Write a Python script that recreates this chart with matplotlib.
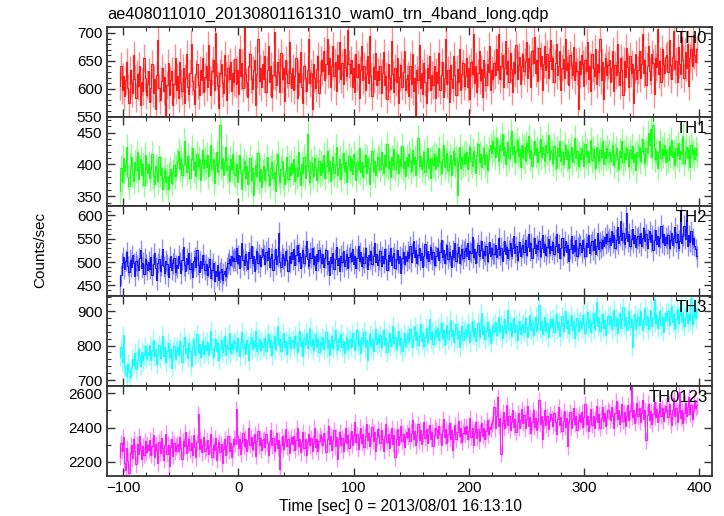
import matplotlib
matplotlib.use("Agg")
import matplotlib.pyplot as plt
import numpy as np
from matplotlib.ticker import MultipleLocator

plt.rcParams['font.family'] = ['Liberation Sans', 'DejaVu Sans']

title = "ae408011010_20130801161310_wam0_trn_4band_long.qdp"
xlabel = "Time [sec] 0 = 2013/08/01 16:13:10"
ylabel = "Counts/sec"

# 1 s bins, first bin at t = -103 s
t_start = -103
t_bin = 1.0

band_names = ["TH0", "TH1", "TH2", "TH3", "TH0123"]

th0 = [
    605, 640, 598, 622, 587, 615, 648, 601, 574, 633, 610, 592, 660, 618, 583, 627, 605, 641, 570, 612, 596, 655, 620, 589, 608,
    631, 577, 602, 644, 593, 618, 563, 625, 688, 601, 579, 614, 638, 596, 621, 553, 607, 646, 588, 615, 632, 570, 609, 655, 597,
    622, 584, 648, 611, 596, 637, 575, 620, 663, 603, 590, 629, 681, 614, 598, 572, 626, 645, 607, 589, 633, 616, 656, 594, 621,
    640, 603, 679, 615, 588, 631, 652, 598, 700, 622, 606, 566, 628, 645, 611, 593, 661, 624, 580, 637, 617, 648, 596, 629, 612,
    654, 608, 633, 590, 671, 622, 646, 601, 710, 627, 612, 585, 640, 663, 618, 599, 634, 652, 571, 626, 689, 614, 637, 603, 645,
    618, 659, 594, 633, 676, 612, 640, 585, 625, 701, 622, 607, 648, 630, 595, 664, 617, 638, 578, 651, 626, 610, 683, 628, 601,
    637, 598, 622, 655, 584, 629, 612, 666, 603, 575, 641, 620, 596, 634, 689, 611, 628, 563, 645, 619, 602, 636, 658, 593, 624,
    652, 631, 668, 615, 644, 690, 627, 655, 603, 641, 676, 622, 648, 596, 661, 635, 683, 618, 647, 609, 672, 638, 623, 705, 644,
    628, 651, 604, 637, 595, 662, 621, 645, 583, 633, 676, 615, 641, 598, 626, 658, 610, 694, 622, 587, 639, 617, 664, 606, 631,
    615, 641, 592, 628, 665, 606, 623, 581, 644, 619, 600, 686, 627, 594, 638, 612, 655, 575, 621, 643, 604, 630, 667, 597, 618,
    624, 587, 640, 609, 662, 596, 619, 553, 633, 615, 678, 601, 628, 590, 646, 612, 574, 637, 620, 658, 598, 625, 606, 641, 583,
    630, 611, 664, 597, 625, 648, 586, 619, 690, 608, 633, 576, 642, 617, 601, 659, 624, 589, 636, 612, 671, 598, 627, 646, 605,
    622, 655, 603, 637, 581, 648, 626, 699, 611, 640, 594, 628, 667, 615, 636, 585, 652, 621, 607, 644, 630, 676, 598, 633, 618,
    646, 625, 672, 633, 698, 617, 641, 660, 604, 638, 685, 627, 650, 612, 664, 636, 595, 648, 629, 679, 618, 643, 657, 608, 640,
    662, 631, 648, 684, 620, 655, 639, 603, 667, 646, 692, 628, 651, 614, 673, 640, 658, 597, 645, 676, 633, 662, 619, 649, 687,
    636, 655, 612, 647, 680, 625, 641, 667, 598, 638, 654, 620, 689, 633, 646, 607, 661, 642, 624, 675, 615, 648, 632, 563, 650,
    627, 660, 644, 605, 652, 631, 684, 618, 641, 596, 663, 637, 622, 671, 609, 645, 630, 690, 616, 648, 582, 639, 656, 625, 643,
    651, 612, 638, 667, 596, 642, 625, 681, 630, 607, 655, 634, 588, 649, 621, 673, 639, 603, 658, 628, 645, 574, 636, 662, 617,
    634, 668, 620, 645, 699, 628, 652, 606, 641, 676, 632, 615, 663, 647, 590, 655, 639, 708, 626, 650, 612, 672, 643, 629, 657,
    661, 630, 688, 642, 618, 657, 703, 636, 649, 612, 674, 645, 627, 692, 651, 620, 666, 638, 681, 605, 655, 672, 641, 696, 660,
    648, 672,
]

th1 = [
    358, 395, 372, 410, 389, 401, 427, 380, 366, 398, 412, 385, 374, 403, 391, 419, 377, 396, 408, 383, 400, 368, 415, 392, 386,
    401, 378, 393, 417, 381, 369, 398, 388, 374, 411, 384, 395, 362, 379, 391, 372, 380, 361, 384, 392, 371, 388, 399, 382, 395,
    405, 421, 392, 410, 384, 399, 437, 402, 388, 413, 395, 379, 408, 426, 391, 403, 382, 416, 397, 409, 376, 401, 422, 394, 407,
    396, 415, 381, 404, 430, 392, 408, 371, 399, 419, 388, 402, 462, 395, 410, 383, 405, 427, 391, 398, 374, 409, 393, 416, 386,
    383, 401, 372, 395, 414, 386, 362, 391, 405, 378, 397, 369, 388, 410, 375, 394, 352, 387, 399, 381, 418, 374, 392, 365, 389,
    398, 376, 391, 412, 383, 367, 395, 404, 379, 388, 358, 399, 416, 385, 372, 393, 405, 381, 369, 390, 411, 377, 396, 384, 402,
    387, 409, 374, 395, 382, 420, 391, 367, 401, 386, 412, 379, 398, 448, 388, 372, 404, 393, 381, 410, 396, 376, 391, 405, 384,
    402, 388, 415, 379, 397, 421, 390, 405, 374, 396, 411, 386, 399, 428, 383, 394, 409, 377, 400, 418, 389, 404, 372, 397, 413,
    391, 408, 385, 417, 399, 376, 403, 392, 426, 388, 404, 380, 398, 414, 387, 410, 394, 369, 402, 421, 390, 406, 383, 399, 411,
    408, 393, 420, 401, 387, 414, 398, 432, 395, 406, 380, 411, 399, 424, 392, 403, 417, 386, 409, 398, 429, 394, 405, 381, 412,
    397, 416, 405, 389, 423, 400, 411, 384, 407, 442, 398, 413, 392, 404, 419, 388, 402, 426, 395, 408, 378, 410, 399, 417, 393,
    412, 398, 425, 403, 387, 409, 430, 396, 405, 418, 391, 402, 414, 383, 407, 421, 399, 410, 352, 404, 427, 395, 411, 400, 416,
    402, 419, 393, 412, 428, 405, 398, 421, 409, 386, 415, 432, 403, 417, 396, 411, 426, 400, 414, 391, 408, 423, 430, 418, 436,
    426, 411, 441, 418, 405, 430, 422, 447, 414, 428, 401, 419, 435, 410, 425, 452, 416, 429, 404, 421, 438, 413, 424, 396, 430,
    412, 427, 405, 433, 419, 444, 410, 422, 398, 417, 436, 414, 425, 403, 420, 440, 411, 428, 416, 405, 431, 419, 446, 408, 423,
    418, 402, 429, 411, 394, 425, 413, 437, 406, 419, 400, 415, 431, 409, 422, 395, 414, 427, 404, 418, 442, 410, 421, 398, 416,
    409, 426, 416, 398, 432, 413, 421, 403, 418, 439, 407, 424, 411, 395, 428, 415, 406, 423, 412, 437, 401, 419, 410, 426, 414,
    420, 405, 417, 431, 399, 414, 425, 408, 393, 421, 411, 436, 403, 418, 409, 426, 414, 397, 422, 410, 429, 404, 416, 391, 419,
    413, 428, 405, 421, 440, 416, 402, 425, 418, 449, 430, 456, 412, 462, 426, 408, 421, 395, 419, 436, 410, 424, 414, 431, 403,
    422, 407, 429, 415, 438, 411, 420, 399, 426, 414, 433, 408, 421, 417, 445, 402, 419, 428, 410, 424, 396, 431, 416, 422, 409,
    425, 414,
]

th2 = [
    448, 472, 497, 510, 486, 503, 521, 492, 478, 505, 489, 515, 497, 470, 502, 493, 484, 509, 526, 488, 499, 474, 507, 495, 483,
    501, 486, 511, 473, 496, 519, 488, 462, 498, 507, 480, 493, 528, 491, 476, 503, 495, 468, 489, 512, 484, 497, 509, 479, 494,
    488, 514, 499, 476, 505, 532, 493, 481, 508, 496, 520, 485, 499, 467, 503, 511, 490, 526, 494, 478, 502, 487, 516, 496, 483,
    495, 472, 489, 506, 466, 484, 498, 459, 480, 470, 493, 462, 478, 486, 461, 475, 481, 470, 488, 497, 506, 494, 512, 503, 509,
    503, 529, 497, 515, 488, 512, 541, 505, 494, 518, 502, 486, 521, 509, 535, 497, 513, 480, 507, 524, 499, 516, 491, 511, 528,
    515, 496, 522, 504, 531, 490, 509, 518, 482, 506, 527, 495, 512, 563, 501, 489, 517, 508, 493, 524, 505, 480, 514, 499, 521,
    506, 528, 494, 515, 537, 503, 519, 488, 511, 526, 498, 514, 545, 507, 492, 520, 509, 531, 496, 513, 484, 518, 502, 525, 510,
    498, 517, 489, 509, 526, 495, 503, 472, 511, 497, 520, 486, 506, 532, 494, 508, 481, 514, 500, 523, 491, 505, 517, 488, 510,
    519, 502, 527, 496, 514, 488, 508, 535, 503, 521, 492, 510, 498, 529, 511, 485, 516, 504, 524, 495, 513, 540, 501, 518, 493,
    505, 523, 491, 512, 499, 528, 507, 483, 516, 502, 531, 494, 510, 519, 487, 506, 525, 498, 513, 476, 508, 521, 496, 514, 503,
    522, 508, 534, 501, 519, 545, 511, 526, 497, 516, 531, 505, 520, 489, 514, 538, 509, 523, 502, 517, 533, 506, 521, 494, 512,
    513, 529, 504, 521, 548, 510, 525, 497, 518, 536, 507, 522, 514, 490, 526, 511, 540, 503, 519, 532, 498, 516, 527, 508, 523,
    530, 514, 541, 506, 524, 519, 553, 510, 528, 499, 521, 537, 512, 526, 545, 508, 523, 516, 534, 503, 520, 542, 513, 529, 518,
    518, 537, 510, 528, 551, 515, 531, 502, 524, 546, 517, 533, 508, 526, 540, 512, 529, 556, 519, 534, 505, 522, 543, 514, 530,
    537, 521, 548, 516, 533, 559, 524, 540, 509, 531, 552, 519, 536, 527, 544, 512, 530, 557, 522, 538, 515, 533, 549, 520, 535,
    526, 543, 517, 534, 560, 522, 538, 508, 529, 551, 516, 532, 545, 521, 537, 503, 528, 555, 519, 536, 524, 547, 513, 531, 540,
    536, 521, 548, 529, 514, 541, 533, 558, 520, 537, 545, 526, 550, 518, 534, 562, 527, 543, 530, 547, 535, 553, 540, 559, 544,
    551, 536, 566, 542, 557, 531, 548, 575, 540, 556, 588, 547, 563, 538, 552, 604, 544, 561, 535, 549, 570, 541, 558, 533, 550,
    556, 541, 563, 535, 552, 572, 546, 559, 530, 549, 566, 543, 557, 525, 548, 569, 539, 555, 534, 551, 578, 542, 560, 537, 553,
    540, 558, 531, 547, 563, 536, 552, 574, 543, 560, 529, 546, 612, 541, 556, 578, 549, 590, 535, 557, 543, 566, 538, 551, 534,
    528, 512,
]

th3 = [
    768, 795, 752, 830, 741, 722, 712, 748, 725, 708, 734, 762, 745, 778, 731, 756, 790, 769, 742, 781, 757, 773, 798, 764, 780,
    772, 801, 758, 785, 816, 769, 790, 747, 776, 803, 764, 788, 829, 771, 795, 752, 783, 808, 766, 791, 736, 779, 798, 761, 785,
    797, 773, 812, 786, 752, 801, 826, 779, 793, 763, 808, 785, 741, 796, 818, 772, 789, 834, 781, 805, 767, 792, 814, 776, 799,
    788, 811, 774, 803, 842, 790, 768, 797, 820, 783, 806, 759, 794, 816, 781, 799, 827, 772, 802, 789, 835, 778, 804, 791, 812,
    806, 783, 821, 797, 770, 810, 839, 792, 805, 776, 817, 801, 758, 808, 826, 789, 814, 795, 843, 783, 802, 819, 787, 811, 796,
    798, 821, 785, 809, 834, 796, 815, 772, 806, 828, 790, 812, 857, 801, 818, 783, 809, 836, 795, 814, 777, 806, 825, 793, 811,
    817, 794, 829, 806, 781, 814, 842, 799, 811, 770, 822, 805, 836, 792, 815, 851, 803, 819, 787, 810, 833, 797, 818, 780, 809,
    801, 824, 789, 812, 838, 796, 815, 773, 806, 829, 792, 817, 845, 803, 788, 821, 809, 834, 795, 813, 778, 807, 826, 790, 814,
    820, 797, 835, 811, 786, 818, 844, 802, 815, 779, 826, 808, 839, 796, 817, 758, 810, 833, 799, 819, 785, 812, 847, 804, 821,
    809, 832, 796, 818, 845, 803, 822, 781, 814, 837, 799, 821, 858, 808, 826, 790, 815, 841, 802, 823, 784, 811, 836, 798, 819,
    833, 812, 848, 821, 795, 829, 856, 816, 838, 802, 827, 863, 814, 835, 798, 824, 851, 810, 832, 877, 819, 840, 805, 826, 846,
    828, 851, 815, 839, 866, 822, 844, 803, 833, 859, 818, 841, 874, 827, 846, 809, 836, 862, 821, 843, 796, 832, 857, 817, 840,
    846, 825, 862, 836, 810, 843, 871, 829, 850, 813, 838, 866, 824, 847, 895, 833, 855, 818, 841, 869, 827, 849, 808, 836, 858,
    843, 867, 831, 854, 882, 840, 861, 822, 849, 876, 835, 858, 903, 844, 866, 828, 852, 879, 838, 860, 817, 847, 872, 833, 855,
    862, 840, 879, 853, 826, 859, 888, 845, 867, 830, 856, 884, 841, 864, 918, 849, 871, 834, 857, 882, 843, 866, 825, 852, 876,
    854, 877, 839, 863, 892, 848, 869, 828, 857, 885, 843, 866, 899, 851, 873, 836, 860, 889, 846, 870, 823, 856, 881, 841, 865,
    872, 850, 889, 862, 835, 868, 898, 854, 876, 839, 865, 893, 848, 871, 926, 857, 880, 842, 866, 891, 851, 874, 832, 861, 886,
    863, 887, 848, 873, 903, 857, 879, 836, 866, 895, 852, 876, 911, 860, 883, 844, 869, 899, 855, 878, 797, 864, 890, 849, 874,
    882, 859, 899, 872, 844, 878, 908, 863, 886, 848, 875, 904, 857, 881, 935, 866, 889, 851, 876, 901, 860, 884, 840, 870, 895,
    875, 899, 860, 885, 915, 868, 891, 848, 878, 907, 864, 888, 925, 871, 894, 856, 881, 912, 866, 890, 873, 938, 862, 886, 897,
    880, 905,
]

th0123 = [
    2230, 2310, 2265, 2345, 2190, 2150, 2280, 2205, 2135, 2250, 2295, 2220, 2330, 2260, 2185, 2305, 2245, 2350, 2270, 2215, 2290, 2240, 2320, 2255, 2300,
    2268, 2325, 2240, 2290, 2355, 2225, 2305, 2270, 2190, 2315, 2250, 2340, 2280, 2210, 2295, 2365, 2245, 2300, 2175, 2285, 2330, 2235, 2310, 2260, 2290,
    2305, 2260, 2345, 2280, 2215, 2320, 2290, 2375, 2250, 2300, 2335, 2270, 2310, 2240, 2355, 2285, 2225, 2315, 2480, 2275, 2330, 2255, 2300, 2345, 2265,
    2280, 2325, 2245, 2300, 2360, 2230, 2295, 2270, 2340, 2210, 2285, 2315, 2255, 2305, 2190, 2275, 2330, 2240, 2295, 2350, 2265, 2310, 2225, 2290, 2335,
    2305, 2510, 2350, 2280, 2330, 2245, 2315, 2370, 2290, 2335, 2260, 2325, 2395, 2300, 2345, 2275, 2310, 2360, 2235, 2320, 2380, 2295, 2340, 2270, 2325,
    2330, 2285, 2360, 2310, 2240, 2320, 2385, 2295, 2340, 2260, 2305, 2370, 2280, 2325, 2155, 2300, 2350, 2275, 2315, 2390, 2290, 2335, 2250, 2310, 2345,
    2305, 2350, 2270, 2325, 2395, 2290, 2335, 2255, 2315, 2375, 2280, 2330, 2240, 2320, 2365, 2295, 2340, 2265, 2310, 2400, 2285, 2335, 2260, 2320, 2355,
    2340, 2295, 2370, 2320, 2255, 2335, 2410, 2305, 2350, 2270, 2325, 2385, 2290, 2345, 2215, 2330, 2375, 2300, 2340, 2265, 2320, 2395, 2310, 2355, 2280,
    2330, 2380, 2300, 2355, 2430, 2315, 2360, 2275, 2340, 2400, 2310, 2365, 2285, 2350, 2420, 2325, 2370, 2290, 2345, 2405, 2320, 2375, 2260, 2340, 2390,
    2355, 2310, 2385, 2330, 2265, 2350, 2420, 2315, 2360, 2280, 2340, 2395, 2305, 2355, 2225, 2335, 2390, 2300, 2350, 2410, 2320, 2365, 2285, 2345, 2375,
    2345, 2395, 2320, 2370, 2445, 2335, 2380, 2295, 2355, 2420, 2325, 2385, 2305, 2365, 2430, 2340, 2390, 2310, 2360, 2415, 2335, 2375, 2290, 2355, 2400,
    2385, 2340, 2410, 2360, 2295, 2380, 2450, 2345, 2390, 2310, 2365, 2425, 2335, 2385, 2270, 2360, 2415, 2330, 2375, 2440, 2350, 2395, 2315, 2370, 2405,
    2360, 2410, 2330, 2380, 2455, 2345, 2395, 2300, 2370, 2435, 2340, 2390, 2320, 2375, 2425, 2350, 2400, 2335, 2380, 2445, 2360, 2405, 2390, 2420, 2445,
    2520, 2395, 2470, 2580, 2410, 2455, 2245, 2425, 2490, 2400, 2445, 2530, 2415, 2465, 2385, 2435, 2500, 2405, 2450, 2375, 2430, 2485, 2400, 2445, 2510,
    2425, 2475, 2395, 2450, 2525, 2410, 2460, 2370, 2435, 2500, 2405, 2455, 2385, 2440, 2560, 2420, 2470, 2330, 2445, 2505, 2415, 2465, 2390, 2440, 2480,
    2455, 2410, 2485, 2430, 2365, 2450, 2520, 2415, 2460, 2380, 2440, 2495, 2405, 2455, 2290, 2435, 2490, 2400, 2450, 2515, 2420, 2465, 2385, 2445, 2475,
    2435, 2490, 2405, 2460, 2535, 2420, 2470, 2380, 2445, 2510, 2415, 2465, 2395, 2450, 2525, 2430, 2480, 2400, 2455, 2520, 2440, 2485, 2410, 2460, 2500,
    2490, 2445, 2520, 2465, 2400, 2485, 2555, 2450, 2500, 2420, 2475, 2535, 2440, 2490, 2410, 2470, 2530, 2445, 2495, 2640, 2460, 2505, 2425, 2480, 2545,
    2465, 2515, 2435, 2485, 2560, 2450, 2500, 2325, 2475, 2540, 2445, 2495, 2420, 2480, 2550, 2460, 2510, 2430, 2485, 2545, 2470, 2515, 2440, 2490, 2525,
    2505, 2460, 2535, 2480, 2415, 2500, 2570, 2465, 2515, 2435, 2490, 2610, 2455, 2505, 2425, 2485, 2545, 2470, 2520, 2580, 2480, 2530, 2450, 2495, 2560,
    2515, 2530,
]

# typical 1-sigma error bar per band (counts/sec)
band_errors = [25, 20, 22, 28, 48]

series = [th0, th1, th2, th3, th0123]
colors = ["#ff0000", "#00ff00", "#0000ff", "#00ffff", "#ff00ff"]
ylims = [(550, 711), (334, 475), (427, 619), (683, 943), (2118, 2643)]
ymajor = [50, 50, 50, 100, 200]
yminor = [10, 10, 10, 20, 100]

fig = plt.figure(figsize=(7.24, 5.16), dpi=100)
gs = fig.add_gridspec(5, 1, left=0.148, right=0.983, top=0.948, bottom=0.078, hspace=0)

axes = []
for i, (name, vals) in enumerate(zip(band_names, series)):
    ax = fig.add_subplot(gs[i], sharex=axes[0] if axes else None)
    axes.append(ax)
    y = np.array(vals, dtype=float)
    t = t_start + t_bin * np.arange(len(y))
    ax.errorbar(t, y, yerr=band_errors[i], fmt="none", ecolor=colors[i],
                alpha=0.45, elinewidth=1.0, capsize=0)
    ax.step(t, y, where="mid", color=colors[i], lw=0.8, alpha=0.85)

    ax.set_ylim(*ylims[i])
    ax.yaxis.set_major_locator(MultipleLocator(ymajor[i]))
    ax.yaxis.set_minor_locator(MultipleLocator(yminor[i]))
    ax.xaxis.set_major_locator(MultipleLocator(100))
    ax.xaxis.set_minor_locator(MultipleLocator(20))
    ax.tick_params(which="both", direction="in", top=True, right=True,
                   labelsize=11, colors="#333333", labelcolor="black")
    ax.tick_params(which="major", length=6, width=1)
    ax.tick_params(which="minor", length=3, width=0.8)
    for sp in ax.spines.values():
        sp.set_linewidth(1.3)
        sp.set_color("#333333")
    if i < 4:
        ax.tick_params(labelbottom=False)
    ax.text(0.993, 0.955, name, transform=ax.transAxes, ha="right", va="top",
            fontsize=12)

axes[0].set_xlim(-114, 411)

fig.text(0.148, 1 - 14 / 516, title, ha="left", va="center", fontsize=11.8)
fig.text(0.056, 1 - 250 / 516, ylabel, rotation=90, ha="center", va="center", fontsize=11)
fig.text(0.553, 1 - 507 / 516, xlabel, ha="center", va="center", fontsize=11.2)

fig.savefig("out.png", dpi=100)
